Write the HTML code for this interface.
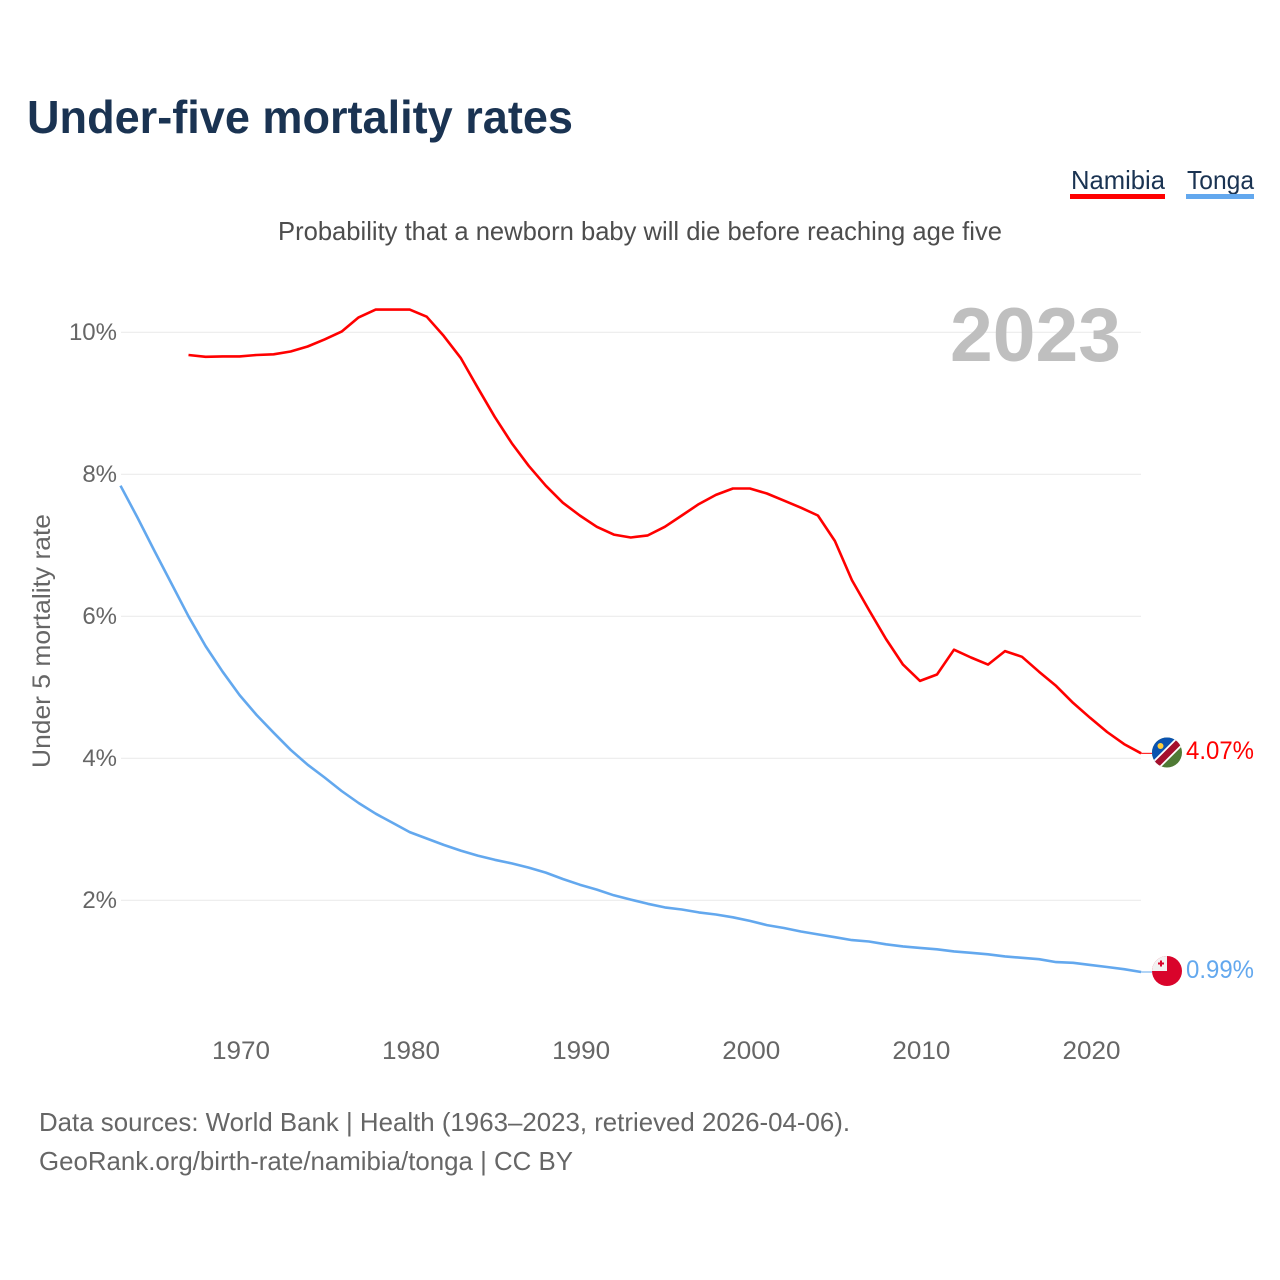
<!DOCTYPE html>
<html lang="en">
<head>
<meta charset="utf-8">
<title>Under-five mortality rates</title>
<style>
html,body{margin:0;padding:0;background:#fff;width:1280px;height:1280px;overflow:hidden}
svg{display:block;font-family:"Liberation Sans",sans-serif}
</style>
</head>
<body>
<svg id="chart" xmlns="http://www.w3.org/2000/svg" width="1280" height="1280" viewBox="0 0 1280 1280">
  <defs>
    <clipPath id="flag-clip-n"><circle cx="1167" cy="752.5" r="15"/></clipPath>
    <clipPath id="flag-clip-t"><circle cx="1167" cy="971" r="15"/></clipPath>
  </defs>
  <rect x="0" y="0" width="1280" height="1280" fill="#fff"/>
  <text x="27" y="133" font-size="46" font-weight="700" fill="#1a3352" textLength="546" lengthAdjust="spacingAndGlyphs">Under-five mortality rates</text>
  <g>
    <text x="1071" y="189" font-size="26" fill="#1a3352" textLength="94" lengthAdjust="spacingAndGlyphs">Namibia</text>
    <rect x="1070" y="194" width="95" height="5" fill="#ff0000"/>
  </g>
  <g>
    <text x="1187" y="189" font-size="26" fill="#1a3352" textLength="67" lengthAdjust="spacingAndGlyphs">Tonga</text>
    <rect x="1186" y="194" width="68" height="5" fill="#63a8ee"/>
  </g>
  <text x="278" y="240" font-size="26" fill="#4d4d4d" textLength="724" lengthAdjust="spacingAndGlyphs">Probability that a newborn baby will die before reaching age five</text>
  <g id="grid"></g>
  <g id="yticks"></g>
  <g id="xticks"></g>
  <text transform="translate(50,768) rotate(-90)" x="0" y="0" font-size="25" fill="#666" textLength="254" lengthAdjust="spacingAndGlyphs">Under 5 mortality rate</text>
  <text x="950" y="361" font-size="76" font-weight="700" fill="#bfbfbf" textLength="171" lengthAdjust="spacingAndGlyphs">2023</text>
  <g id="series"></g>
  <g clip-path="url(#flag-clip-n)">
    <rect x="1150" y="735" width="34" height="36" fill="#4f7a35"/>
    <polygon points="1150,735 1184,735 1150,769" fill="#0a53b0"/>
    <line x1="1150" y1="771" x2="1186" y2="735" stroke="#fff" stroke-width="10"/>
    <line x1="1150" y1="771" x2="1186" y2="735" stroke="#a50f2d" stroke-width="6.5"/>
    <circle cx="1160.5" cy="746" r="3" fill="#ffce3a"/>
  </g>
  <g clip-path="url(#flag-clip-t)">
    <rect x="1150" y="954" width="34" height="34" fill="#d9042b"/>
    <rect x="1150" y="954" width="17" height="17" fill="#f2f2f2"/>
    <path d="M1160 962h2v2h2v2h-2v2h-2v-2h-2v-2h2z" fill="#d9042b" transform="translate(0,-1.500)"/>
  </g>
  <text x="1186" y="759" font-size="25" fill="#ff0000" textLength="68" lengthAdjust="spacingAndGlyphs">4.07%</text>
  <text x="1186" y="978" font-size="25" fill="#63a8ee" textLength="68" lengthAdjust="spacingAndGlyphs">0.99%</text>
  <text x="39" y="1131" font-size="26" fill="#666" textLength="811" lengthAdjust="spacingAndGlyphs">Data sources: World Bank | Health (1963–2023, retrieved 2026-04-06).</text>
  <text x="39" y="1170" font-size="26" fill="#666" textLength="534" lengthAdjust="spacingAndGlyphs">GeoRank.org/birth-rate/namibia/tonga | CC BY</text>
</svg>
<script>
const yTickValues = [2, 4, 6, 8, 10];
const xTickYears = [1970, 1980, 1990, 2000, 2010, 2020];
const namibiaStartYear = 1967;
const namibiaValues = [9.68,9.655,9.66,9.66,9.68,9.69,9.73,9.80,9.90,10.01,10.21,10.32,10.32,10.32,10.22,9.95,9.64,9.22,8.81,8.44,8.12,7.84,7.60,7.42,7.26,7.15,7.11,7.14,7.26,7.42,7.58,7.71,7.80,7.80,7.73,7.63,7.53,7.42,7.06,6.51,6.09,5.68,5.32,5.09,5.18,5.53,5.42,5.32,5.51,5.43,5.22,5.02,4.78,4.57,4.37,4.20,4.07];
const tongaStartYear = 1963;
const tongaValues = [7.84,7.39,6.92,6.46,6.00,5.58,5.22,4.89,4.61,4.36,4.12,3.91,3.73,3.54,3.37,3.22,3.09,2.96,2.87,2.78,2.70,2.63,2.57,2.52,2.46,2.39,2.30,2.22,2.15,2.07,2.01,1.95,1.90,1.87,1.83,1.80,1.76,1.71,1.65,1.61,1.56,1.52,1.48,1.44,1.42,1.38,1.35,1.33,1.31,1.28,1.26,1.24,1.21,1.19,1.17,1.13,1.12,1.09,1.06,1.03,0.99];

const NS = 'http://www.w3.org/2000/svg';
const xScale = function (year) { return 120.5 + (year - 1963) * 17.01; };
const yScale = function (v) { return 900.3 - (v - 2) * 71; };

const gridGroup = document.getElementById('grid');
const yGroup = document.getElementById('yticks');
const xGroup = document.getElementById('xticks');
const seriesGroup = document.getElementById('series');

yTickValues.forEach(function (v) {
  const line = document.createElementNS(NS, 'line');
  
  
  line.setAttribute('x1', 121);
  line.setAttribute('x2', 1141);
  line.setAttribute('y1', yScale(v));
  line.setAttribute('y2', yScale(v));
  line.setAttribute('stroke', '#e9e9e9');
  line.setAttribute('stroke-width', 1);
  gridGroup.appendChild(line);

  const label = document.createElementNS(NS, 'text');
  
  
  label.setAttribute('x', 117);
  label.setAttribute('y', yScale(v) + 7.7);
  label.setAttribute('text-anchor', 'end');
  label.setAttribute('font-size', 24);
  label.setAttribute('fill', '#666');
  label.textContent = v + '%';
  yGroup.appendChild(label);
});

xTickYears.forEach(function (year) {
  const label = document.createElementNS(NS, 'text');
  
  
  label.setAttribute('x', xScale(year) - 27.6);
  label.setAttribute('y', 1059);
  label.setAttribute('font-size', 25);
  label.setAttribute('fill', '#666');
  label.setAttribute('textLength', 58);
  label.setAttribute('lengthAdjust', 'spacingAndGlyphs');
  label.textContent = String(year);
  xGroup.appendChild(label);
});

function linePoints(values, startYear) {
  return values.map(function (v, i) {
    return xScale(startYear + i).toFixed(1) + ',' + yScale(v).toFixed(1);
  }).join(' ');
}

const namibiaLine = document.createElementNS(NS, 'polyline');


namibiaLine.setAttribute('points', linePoints(namibiaValues, namibiaStartYear));
namibiaLine.setAttribute('fill', 'none');
namibiaLine.setAttribute('stroke', '#ff0000');
namibiaLine.setAttribute('stroke-width', 2.6);
namibiaLine.setAttribute('stroke-linejoin', 'round');
seriesGroup.appendChild(namibiaLine);

const tongaLine = document.createElementNS(NS, 'polyline');


tongaLine.setAttribute('points', linePoints(tongaValues, tongaStartYear));
tongaLine.setAttribute('fill', 'none');
tongaLine.setAttribute('stroke', '#63a8ee');
tongaLine.setAttribute('stroke-width', 2.6);
tongaLine.setAttribute('stroke-linejoin', 'round');
seriesGroup.appendChild(tongaLine);

const namibiaLeader = document.createElementNS(NS, 'line');


namibiaLeader.setAttribute('x1', xScale(2023));
namibiaLeader.setAttribute('x2', 1152);
namibiaLeader.setAttribute('y1', yScale(namibiaValues[namibiaValues.length - 1]));
namibiaLeader.setAttribute('y2', yScale(namibiaValues[namibiaValues.length - 1]));
namibiaLeader.setAttribute('stroke', '#ff0000');
namibiaLeader.setAttribute('stroke-width', 1);
seriesGroup.appendChild(namibiaLeader);

const tongaLeader = document.createElementNS(NS, 'line');


tongaLeader.setAttribute('x1', xScale(2023));
tongaLeader.setAttribute('x2', 1152);
tongaLeader.setAttribute('y1', yScale(tongaValues[tongaValues.length - 1]));
tongaLeader.setAttribute('y2', yScale(tongaValues[tongaValues.length - 1]));
tongaLeader.setAttribute('stroke', '#63a8ee');
tongaLeader.setAttribute('stroke-width', 1);
seriesGroup.appendChild(tongaLeader);
</script>
</body>
</html>
